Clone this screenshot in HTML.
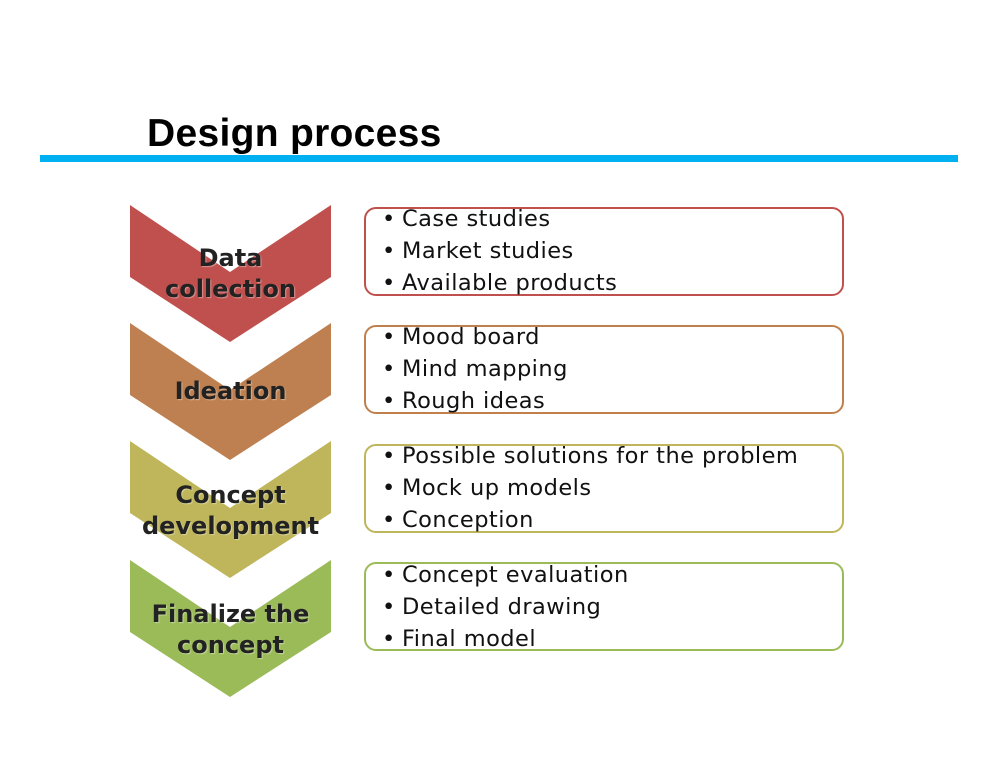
<!DOCTYPE html>
<html><head><style>
body{margin:0;background:#fff;}
.wrap{position:relative;width:1000px;height:773px;overflow:hidden;font-family:"DejaVu Sans","Liberation Sans",sans-serif;}
.title{position:absolute;left:147px;top:112px;font:bold 39px "Liberation Sans",sans-serif;color:#000;letter-spacing:0.3px;}
.line{position:absolute;left:40px;top:155px;width:918px;height:7px;background:#00b0f0;}
.box{position:absolute;left:364px;width:476px;height:85px;border:2.5px solid;border-radius:12px;box-sizing:content-box;}
.items{position:absolute;left:382px;font-size:22.5px;line-height:32px;color:#111;white-space:nowrap;letter-spacing:0.45px;}
.items div:before{content:"•";display:inline-block;width:20px;}
.lab{position:absolute;left:130px;width:201px;text-align:center;font:bold 24px "DejaVu Sans",sans-serif;line-height:31px;color:#222;text-shadow:1px 1px 1px rgba(255,255,255,.4);}
</style></head><body><div class="wrap">
<div class="title">Design process</div>
<div class="line"></div>
<svg width="1000" height="773" style="position:absolute;left:0;top:0">
<polygon points="130,205 230,272 331,205 331,277 230,342 130,277" fill="#c0504d"/>
<polygon points="130,323 230,390 331,323 331,395 230,460 130,395" fill="#be8050"/>
<polygon points="130,441 230,508 331,441 331,513 230,578 130,513" fill="#bfb55a"/>
<polygon points="130,560 230,627 331,560 331,632 230,697 130,632" fill="#9bbb59"/>
</svg>
<div class="lab" style="top:243px">Data<br>collection</div>
<div class="lab" style="top:376px">Ideation</div>
<div class="lab" style="top:480px">Concept<br>development</div>
<div class="lab" style="top:599px">Finalize the<br>concept</div>
<div class="box" style="top:207px;border-color:#c0504d"></div>
<div class="box" style="top:325px;border-color:#c0804d"></div>
<div class="box" style="top:444px;border-color:#bfb55a"></div>
<div class="box" style="top:562px;border-color:#9bbb59"></div>
<div class="items" style="top:203px"><div>Case studies</div><div>Market studies</div><div>Available products</div></div>
<div class="items" style="top:321px"><div>Mood board</div><div>Mind mapping</div><div>Rough ideas</div></div>
<div class="items" style="top:440px"><div>Possible solutions for the problem</div><div>Mock up models</div><div>Conception</div></div>
<div class="items" style="top:559px"><div>Concept evaluation</div><div>Detailed drawing</div><div>Final model</div></div>
</div></body></html>
